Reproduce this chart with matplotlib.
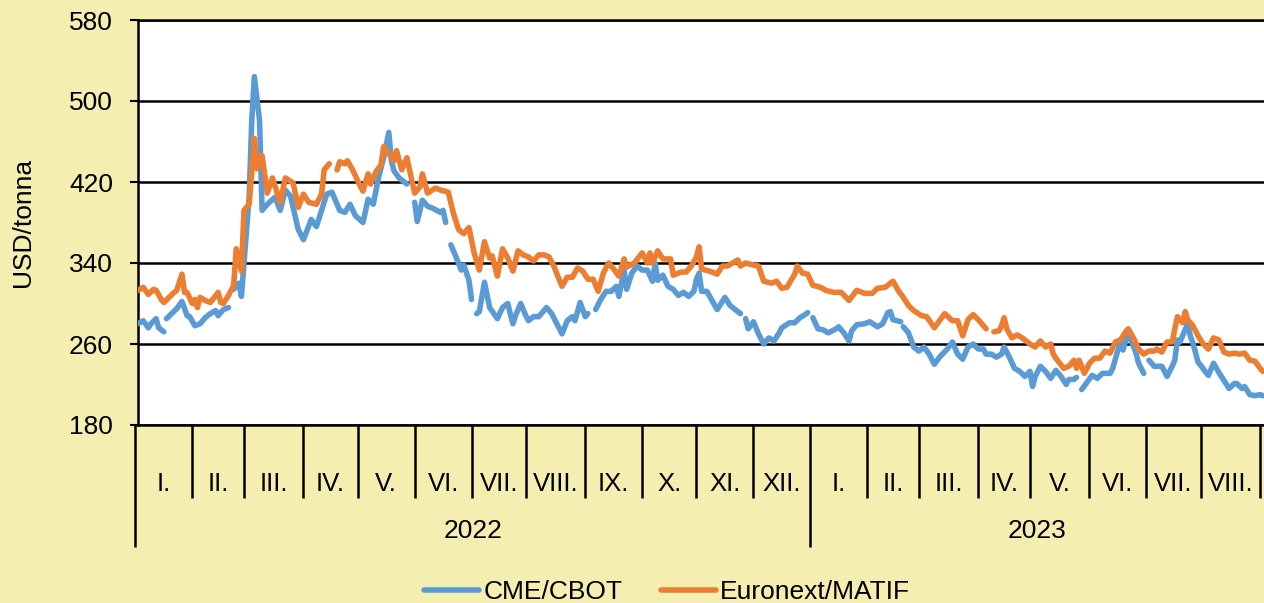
import numpy as np
import pandas as pd
import matplotlib
matplotlib.use("Agg")
import matplotlib.pyplot as plt

nan = np.nan

FIGSIZE = (12.64, 6.03)
DPI = 100
BG_COLOR = "#F4EEB1"
BLUE = "#5B9BD5"
ORANGE = "#ED7D31"
LINE_W = 4.0

START_DAY = "2022-01-03"   # trading day 0
END_DAY = 435.5            # right edge of the plot, in trading days

# CME/CBOT, trading day index since 3 Jan 2022 (nan = no quote)
CBOT_DAY = [0, 2, 4, 5, 7, 8, 10, nan,
            11, 13, 15, 17, 19, 20, 22, 24, 26, 28, 30, 31, 33, 35, nan,
            37, 39, 40, 42, 43, 44, 45, 47, 48, 50, 53, 55, 57, 59, 62, 64, 67, 69, 71, 73,
            75, 78, 80, 82, 84, 87, 89, 91, 93, 95, 97, 98, 99, 101, 104, nan,
            107, 108, 110, 112, 114, 117, 118, 119, nan,
            121, 123, 125, 126, 128, 129, nan,
            131, 132, 134, 136, 139, 141, 143, 145, 146, 148, 150, 151, 153, 155, 158, 160,
            164, 166, 168, 169, 171, 173, 174, nan,
            177, 179, 181, 183, 185, 186, 188, 189, 191, 193, 195, 197, 199, 200, 201, 203,
            205, 207, 209, 211, 213, 215, 216, 217, 218, 220, 222, 224, 227, 229, 231, 233, nan,
            235, 236, 238, 240, 242, 244, 246, 248, 249, 252, 254, 256, 258, 259, nan,
            261, 263, 265, 267, 270, 271, 273, 275, 276, 278, 281, 283, 286, 288, 290, 291,
            292, 295, nan,
            296, 298, 300, 302, 304, 306, 308, 310, 313, 315, 317, 319, 321, 323, 325, 327,
            328, 330, 332, 334, 335, 337, 339, 341, 343, 345, 346, 347, 349, 351, 353, 355,
            357, 359, 360, 362, 363, nan,
            365, 367, 369, 371, 373, 376, 377, 379, 380, 381, 383, 384, 386, 387, 389, nan,
            391, 393, 394, 396, 398, 400, 401, 402, 403, 404, 406, 407, 408, 410, 411, 413,
            414, 416, 418, 420, 422, 424, 425, 427, 428, 430, 432, 434, 435]
CBOT_USD = [280, 283, 276, 280, 285, 276, 272, nan,
            285, 290, 295, 302, 288, 287, 278, 280, 286, 290, 293, 288, 294, 296, nan,
            314, 320, 307, 373, 406, 481, 524, 481, 392, 398, 405, 392, 412, 406, 373, 363,
            383, 376, 392, 408,
            410, 392, 390, 398, 387, 380, 403, 398, 424, 444, 469, 441, 431, 424, 418, nan,
            400, 381, 402, 396, 394, 390, 392, 380, nan,
            358, 346, 333, 338, 323, 304, nan,
            290, 292, 321, 296, 285, 296, 300, 280, 288, 300, 288, 283, 287, 287, 296, 290,
            270, 283, 287, 283, 301, 287, 290, nan,
            294, 304, 312, 312, 317, 307, 333, 314, 330, 337, 333, 333, 322, 340, 323, 328,
            317, 314, 308, 311, 307, 312, 324, 330, 312, 312, 303, 294, 306, 298, 294, 290, nan,
            285, 275, 282, 270, 260, 266, 263, 271, 276, 281, 281, 286, 289, 291, nan,
            286, 275, 274, 271, 275, 277, 271, 263, 273, 279, 280, 282, 277, 280, 291, 292,
            284, 282, nan,
            277, 271, 257, 253, 257, 250, 240, 247, 255, 262, 250, 245, 257, 260, 255, 255,
            250, 250, 247, 250, 257, 247, 236, 233, 228, 233, 218, 228, 238, 233, 226, 234,
            228, 220, 225, 225, 227, nan,
            215, 222, 229, 226, 231, 231, 236, 254, 261, 254, 274, 264, 251, 241, 231, nan,
            244, 238, 238, 238, 228, 238, 244, 264, 262, 268, 280, 268, 261, 242, 239, 232,
            229, 241, 232, 224, 216, 221, 221, 216, 218, 210, 209, 210, 209]

# Euronext/MATIF
MATIF_DAY = [0, 2, 4, 6, 7, 9, 10, 12, 14, 15, 17, 18, 19, 21, 22, 23, 24, 26, 28, 31,
             32, 33, 35, 37, 38, 40, 41, 43, 45, 46, 48, 50, 52, 55, 57, 60, 62, 64, 66, 69,
             71, 72, 74, nan,
             77, 78, 80, 81, 83, 85, 87, 89, 90, 92, 94, 95, 97, 99, 100, 102, 104, 107, 109,
             110, 112, 115, 117, 120, 122, 124, 126, 128, 130, 132, 134, 136, 137, 139, 141,
             143, 145, 147, 149, 151, 153, 155, 157, 159, 161, 163, 164, 166, 168, 170, 172,
             174, 176, 178, 180, 182, 184, 186, 188, 189, 192, 195, 197, 198, 199, 201, 203,
             206, 207, 210, 212, 214, 216, 217, 218, 221, 224, 226, 228, 230, 232, 233, 235,
             238, 240, 242, 245, 247, 249, 251, 254, 255, 257, 259, 261, 264, 266, 269, 272,
             275, 278, 281, 284, 286, 289, 292, 294, 296, 298, 300, 303, 305, 308, 310, 312,
             315, 317, 319, 321, 323, 325, 326, 328, nan,
             331, 333, 334, 335, 336, 338, 340, 342, 345, 347, 349, 351, 353, 354, 355, 358,
             360, 362, 363, 364, 366, 368, 370, 372, 374, 376, 378, 380, 382, 383, 385, 387,
             389, 391, 393, 394, 396, 398, 400, 401, 402, 404, 405, 406, 408, 410, 412, 414,
             416, 418, 420, 422, 424, 426, 428, 430, 432, 434, 435]
MATIF_USD = [313, 316, 309, 314, 313, 304, 301, 306, 311, 313, 329, 311, 311, 300, 304, 296,
             306, 303, 301, 311, 301, 300, 308, 318, 354, 332, 392, 398, 463, 433, 446, 409,
             424, 400, 424, 419, 395, 408, 400, 398, 408, 432, 438, nan,
             432, 440, 438, 441, 432, 421, 411, 428, 418, 430, 437, 455, 448, 441, 451, 432,
             444, 409, 415, 428, 409, 414, 412, 410, 389, 373, 369, 375, 350, 333, 361, 345,
             347, 327, 354, 345, 332, 352, 348, 346, 342, 348, 348, 346, 336, 323, 317, 326,
             326, 335, 332, 324, 324, 312, 330, 340, 334, 327, 344, 336, 340, 350, 340, 350,
             340, 352, 344, 344, 328, 331, 331, 337, 346, 356, 334, 332, 329, 337, 337, 340,
             343, 337, 340, 338, 337, 322, 320, 322, 315, 316, 329, 337, 330, 329, 318, 316,
             313, 311, 311, 303, 313, 310, 310, 315, 316, 322, 313, 306, 298, 293, 288, 287,
             276, 283, 290, 283, 283, 268, 284, 289, 284, 281, 275, nan,
             272, 273, 278, 286, 275, 266, 269, 266, 260, 257, 263, 257, 260, 250, 246, 236,
             238, 244, 236, 244, 231, 241, 246, 246, 253, 251, 262, 264, 272, 275, 266, 255,
             250, 253, 253, 255, 252, 262, 262, 275, 287, 281, 292, 284, 278, 268, 260, 255,
             266, 264, 252, 250, 251, 250, 251, 244, 243, 236, 233]

SERIES_NAMES = ["CME/CBOT", "Euronext/MATIF"]
MONTH_LABELS = ["I.", "II.", "III.", "IV.", "V.", "VI.", "VII.", "VIII.", "IX.", "X.",
                "XI.", "XII.", "I.", "II.", "III.", "IV.", "V.", "VI.", "VII.", "VIII."]
YEAR_LABELS = ["2022", "2023"]
Y_TICKS = [180, 260, 340, 420, 500, 580]


def month_boundaries():
    # trading-day position of the first day of every month shown
    starts = pd.date_range("2022-01-01", "2023-09-01", freq="MS")
    return np.array([np.busday_count(START_DAY, s.strftime("%Y-%m-%d")) for s in starts])


def draw_category_axis(ax, bounds):
    trans = ax.get_xaxis_transform()
    for i, b in enumerate(bounds):
        is_year = i % 12 == 0 and i < len(bounds) - 1
        low = -0.301 if is_year else -0.180
        ax.plot([b, b], [0, low], transform=trans, color="black", lw=1.8,
                clip_on=False, solid_capstyle="butt")

    for i, lab in enumerate(MONTH_LABELS):
        mid = (bounds[i] + bounds[i + 1]) / 2
        ax.text(mid, -0.146, lab, transform=trans, ha="center", va="center",
                fontsize=18.5)

    year_edges = [bounds[0], bounds[12], END_DAY]
    for i, lab in enumerate(YEAR_LABELS):
        mid = (year_edges[i] + year_edges[i + 1]) / 2
        ax.text(mid, -0.262, lab, transform=trans, ha="center", va="center",
                fontsize=19)


def main():
    plt.rcParams["font.family"] = ["Liberation Sans", "DejaVu Sans"]

    fig = plt.figure(figsize=FIGSIZE, dpi=DPI, facecolor=BG_COLOR)
    ax = fig.add_axes([138 / 1264, 1 - 425 / 603, 1126 / 1264, 405 / 603])
    ax.set_facecolor("white")

    lines = []
    for days, vals, color, name in [(CBOT_DAY, CBOT_USD, BLUE, SERIES_NAMES[0]),
                                    (MATIF_DAY, MATIF_USD, ORANGE, SERIES_NAMES[1])]:
        ln, = ax.plot(np.array(days, dtype=float), np.array(vals, dtype=float),
                      color=color, lw=LINE_W, label=name,
                      solid_joinstyle="round", solid_capstyle="round", zorder=3)
        lines.append(ln)

    ax.set_xlim(0, END_DAY)
    ax.set_ylim(180, 580)
    ax.set_yticks(Y_TICKS)
    ax.set_xticks([])
    ax.yaxis.grid(True, color="black", lw=1.8)
    ax.set_axisbelow(True)
    ax.tick_params(axis="y", direction="out", length=6, width=1.5, pad=12,
                   labelsize=19)

    ax.spines["right"].set_visible(False)
    for side in ["left", "bottom", "top"]:
        ax.spines[side].set_color("black")
        ax.spines[side].set_linewidth(1.8)

    draw_category_axis(ax, month_boundaries())

    fig.text(23 / 1264, 1 - 222 / 603, "USD/tonna", rotation=90,
             ha="center", va="center", fontsize=19)

    fig.legend(lines, SERIES_NAMES, loc="center",
               bbox_to_anchor=(667 / 1264, 1 - 592 / 603), ncol=2,
               frameon=False, fontsize=19, handlelength=2.1,
               handletextpad=0.15, columnspacing=1.45)

    fig.savefig("out.png", dpi=DPI, facecolor=BG_COLOR)


if __name__ == "__main__":
    main()
